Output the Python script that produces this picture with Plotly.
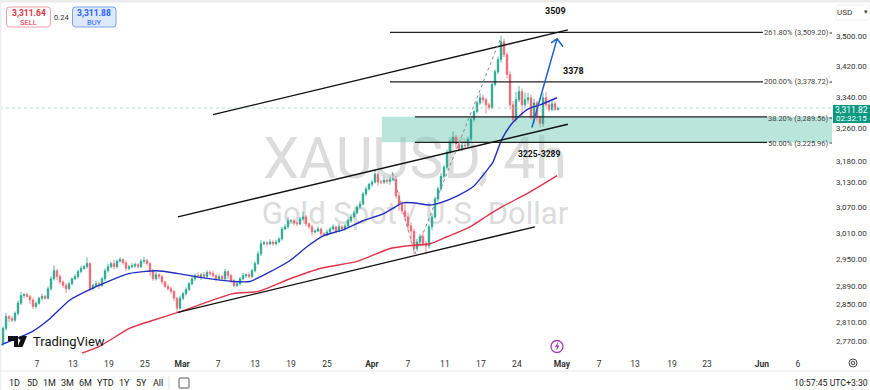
import plotly.graph_objects as go
import math

W, H = 870, 390
L, R, T, B = 0, 38, 6, 33
PW, PH = W - L - R, H - T - B

closes = [
    2766, 2798, 2823, 2819, 2815, 2830, 2852, 2869, 2871, 2867,
    2859, 2845, 2852, 2863, 2867, 2863, 2884, 2906, 2924, 2911,
    2899, 2891, 2884, 2895, 2906, 2911, 2922, 2929, 2933, 2940,
    2884, 2891, 2895, 2891, 2906, 2924, 2933, 2940, 2933, 2945,
    2949, 2942, 2929, 2933, 2935, 2938, 2933, 2945, 2947, 2940,
    2924, 2906, 2915, 2911, 2899, 2889, 2884, 2878, 2863, 2841,
    2863, 2873, 2882, 2895, 2906, 2913, 2911, 2915, 2911, 2920,
    2918, 2913, 2906, 2911, 2906, 2922, 2913, 2902, 2891, 2895,
    2906, 2913, 2915, 2911, 2924, 2940, 2962, 2985, 2987, 2985,
    2989, 2985, 2989, 2996, 3019, 3024, 3038, 3038, 3033, 3031,
    3042, 3047, 3031, 3024, 3012, 3014, 3019, 3008, 3005, 3012,
    3019, 3024, 3014, 3024, 3019, 3026, 3038, 3047, 3056, 3070,
    3077, 3101, 3113, 3124, 3129, 3148, 3129, 3129, 3134, 3131,
    3136, 3136, 3096, 3077, 3061, 3047, 3026, 3014, 2974, 2989,
    3001, 2985, 2980, 3024, 3047, 3089, 3113, 3143, 3165, 3202,
    3227, 3239, 3222, 3209, 3219, 3217, 3234, 3283, 3303, 3325,
    3338, 3333, 3320, 3313, 3372, 3405, 3437, 3484, 3450, 3398,
    3320, 3283, 3333, 3354, 3320, 3333, 3338, 3288, 3325, 3288,
    3273, 3338, 3320, 3308, 3323, 3308, 3312,
]
wick_up = [
    6, 4, 8, 3, 5, 4, 6, 8, 3, 4,
    3, 5, 4, 3, 6, 4, 5, 6, 12, 4,
    5, 3, 6, 4, 3, 5, 4, 6, 4, 14,
    3, 5, 6, 3, 4, 5, 6, 4, 8, 4,
    6, 3, 5, 4, 6, 4, 3, 5, 8, 4,
    3, 4, 6, 3, 4, 3, 5, 4, 3, 2,
    6, 4, 5, 4, 6, 5, 8, 4, 6, 5,
    4, 6, 3, 5, 4, 6, 3, 4, 3, 5,
    4, 6, 3, 5, 4, 5, 6, 8, 5, 4,
    6, 4, 5, 4, 5, 6, 8, 4, 5, 4,
    5, 12, 4, 3, 5, 4, 6, 3, 4, 5,
    4, 6, 3, 8, 4, 5, 4, 6, 5, 4,
    8, 5, 6, 4, 5, 12, 5, 6, 8, 5,
    6, 14, 8, 10, 6, 18, 10, 8, 6, 8,
    6, 12, 6, 5, 8, 6, 5, 8, 5, 6,
    6, 14, 6, 4, 8, 10, 6, 5, 4, 6,
    12, 8, 5, 6, 5, 6, 8, 16, 8, 6,
    8, 10, 20, 14, 8, 18, 12, 8, 10, 6,
    5, 12, 16, 8, 10, 5, 3,
]
wick_dn = [
    4, 6, 5, 8, 4, 3, 5, 4, 6, 3,
    8, 6, 4, 3, 5, 4, 3, 5, 4, 8,
    5, 6, 10, 3, 4, 3, 5, 4, 3, 4,
    6, 4, 3, 8, 3, 5, 4, 3, 6, 4,
    3, 5, 6, 4, 3, 5, 4, 3, 5, 4,
    12, 5, 4, 6, 5, 3, 4, 5, 6, 8,
    3, 5, 4, 3, 4, 5, 3, 8, 4, 3,
    5, 4, 6, 3, 5, 3, 8, 6, 4, 3,
    4, 3, 5, 4, 3, 4, 3, 5, 4, 6,
    3, 5, 4, 3, 4, 3, 5, 4, 6, 5,
    3, 4, 6, 5, 8, 4, 3, 6, 4, 3,
    5, 4, 6, 3, 5, 4, 3, 5, 4, 3,
    4, 3, 5, 4, 6, 3, 8, 5, 4, 6,
    8, 5, 6, 16, 8, 10, 12, 26, 12, 6,
    8, 6, 20, 6, 8, 5, 6, 4, 5, 6,
    4, 6, 12, 6, 5, 8, 4, 5, 6, 4,
    5, 8, 22, 6, 4, 5, 6, 8, 6, 10,
    12, 8, 6, 6, 30, 8, 10, 6, 14, 8,
    10, 8, 6, 5, 4, 3, 2,
]

bar_px = 3.0  # one stored candle slot on the time scale
tick_pos = [12.3, 24.3, 36.3, 48.3, 60.7, 72.7, 85, 97, 109, 124, 136, 148.3, 160.3, 172.3,
            187.3, 199.7, 211.7, 224, 235.7, 254, 266]
tick_labels = ["7", "13", "19", "25", "<b>Mar</b>", "7", "13", "19", "25", "<b>Apr</b>", "7", "11", "17", "24",
               "<b>May</b>", "7", "13", "19", "23", "<b>Jun</b>", "6"]
price_ticks = [3500, 3420, 3340, 3260, 3180, 3130, 3070, 3010, 2950, 2890, 2850, 2810, 2770]

ma_fast_pos = [0, 11, 16.7, 23.3, 29.3, 36.7, 43.3, 52.3, 59, 66.7, 77.7, 83.3, 89, 96.7, 102.3, 107.7, 114.3,
               121, 127.7, 134.3, 137.7, 143.3, 146.7, 152.3, 157.7, 163.3, 164.3, 167.3, 171, 175.7, 180, 185.7]
ma_fast = [2762, 2792, 2819, 2859, 2880, 2902, 2918, 2924, 2918, 2909, 2900, 2900, 2918, 2947, 2978, 3003, 3017,
           3038, 3054, 3080, 3080, 3075, 3080, 3096, 3118, 3167, 3177, 3234, 3276, 3308, 3320, 3338]
ma_slow_pos = [27.3, 33.3, 43.3, 50, 59.3, 77.7, 86, 96.7, 106.7, 119, 130, 135.7, 143.3, 149, 156.7, 162.3, 166.7, 176.7, 185.7]
ma_slow = [2745, 2760, 2798, 2813, 2832, 2873, 2878, 2906, 2929, 2945, 2974, 2980, 2985, 3001, 3024, 3049, 3068, 3106, 3145]

upper_pos, upper_val = [71, 189.3], [3295, 3516]
middle_pos, middle_val = [59.3, 189.3], [3047, 3271]
lower_pos, lower_val = [59.3, 178.3], [2832, 3024]
zig_pos, zig_val = [130.7, 138.3, 167], [3153, 2962, 3496]
arrow_pos, arrow_val = [177.3, 185.7, 183.7, 185.7, 187.7], [3263, 3492, 3481, 3492, 3471]
fib_levels = [3509.20, 3378.72, 3289.56, 3225.96]
fib_start = [130, 130, 138.3, 138.3]
fib_end = [254.3, 254.3, 255.7, 255.7]
fib_text = ["261.80% (3,509.20)", "200.00% (3,378.72)", "38.20% (3,289.56)", "50.00% (3,225.96)"]
last_price = 3311.82


def X(px):
    return (px - L) / PW


def Y(py):
    return 1 - (py - T) / PH


FONT = "Roboto, 'Noto Sans', sans-serif"
x_idx = list(range(len(closes)))
opens = [2762] + closes[:-1]
highs = [max(o, c) + u for o, c, u in zip(opens, closes, wick_up)]
lows = [min(o, c) - d for o, c, d in zip(opens, closes, wick_dn)]

fig = go.Figure()
fig.add_trace(go.Candlestick(
    x=x_idx, open=opens, high=highs, low=lows, close=closes,
    increasing=dict(line=dict(color="#2ba892", width=0.8), fillcolor="#089981"),
    decreasing=dict(line=dict(color="#f0707c", width=0.8), fillcolor="#f23645"),
    whiskerwidth=0, showlegend=False, hoverinfo="skip",
))


def line(xs, ys, color, width, dash="solid", shape="linear"):
    fig.add_trace(go.Scatter(x=xs, y=ys, mode="lines", showlegend=False, hoverinfo="skip",
                             line=dict(color=color, width=width, dash=dash, shape=shape, smoothing=0.6)))


line([0, PW / bar_px], [last_price, last_price], "#9adacd", 0.8, "dot")
line(ma_slow_pos, ma_slow, "#e2324a", 1.4, shape="spline")
line(ma_fast_pos, ma_fast, "#1f2fc0", 1.4, shape="spline")
for a, b, v in zip(fib_start, fib_end, fib_levels):
    line([a, b], [v, v], "#222222", 1.3)
line(upper_pos, upper_val, "#111111", 1.3)
line(middle_pos, middle_val, "#111111", 1.5)
line(lower_pos, lower_val, "#111111", 1.3)
line(zig_pos, zig_val, "#8a8a8a", 1, "dot")
line(arrow_pos, arrow_val, "#1c5fd0", 1.5)

shapes = [
    # watermark
    dict(type="rect", xref="paper", yref="paper", x0=X(240), x1=X(590), y0=Y(182), y1=Y(127), layer="below",
         line=dict(width=0), fillcolor="rgba(0,0,0,0)",
         label=dict(text="XAUUSD, 4h", font=dict(size=57, color="#dcdcdc", family=FONT),
                    textposition="middle center")),
    dict(type="rect", xref="paper", yref="paper", x0=X(240), x1=X(590), y0=Y(230), y1=Y(193), layer="below",
         line=dict(width=0), fillcolor="rgba(0,0,0,0)",
         label=dict(text="Gold Spot / U.S. Dollar", font=dict(size=31, color="#dcdcdc", family=FONT),
                    textposition="middle center")),
    # demand zone
    dict(type="rect", xref="x", yref="y", x0=127.3, x1=PW / bar_px, y0=3225.96, y1=3289.56,
         layer="below", line=dict(width=0), fillcolor="rgba(120,205,185,0.52)"),
    # frame strips
    dict(type="rect", xref="paper", yref="paper", x0=X(0), x1=X(870), y0=Y(0), y1=Y(2.5), line=dict(width=0), fillcolor="#ececec"),
    dict(type="rect", xref="paper", yref="paper", x0=X(0), x1=X(1.5), y0=Y(0), y1=Y(390), line=dict(width=0), fillcolor="#efefef"),
    dict(type="line", xref="paper", yref="paper", x0=X(0), x1=X(870), y0=Y(371), y1=Y(371), line=dict(width=1, color="#e6e8ee")),
    dict(type="line", xref="paper", yref="paper", x0=X(169), x1=X(169), y0=Y(376), y1=Y(389), line=dict(width=1, color="#e0e3eb")),
]


def rrect(x0, y0, x1, y1, r, fill, border, width=1):
    p = (f"M {X(x0+r)} {Y(y0)} L {X(x1-r)} {Y(y0)} Q {X(x1)} {Y(y0)} {X(x1)} {Y(y0+r)} "
         f"L {X(x1)} {Y(y1-r)} Q {X(x1)} {Y(y1)} {X(x1-r)} {Y(y1)} L {X(x0+r)} {Y(y1)} "
         f"Q {X(x0)} {Y(y1)} {X(x0)} {Y(y1-r)} L {X(x0)} {Y(y0+r)} Q {X(x0)} {Y(y0)} {X(x0+r)} {Y(y0)} Z")
    shapes.append(dict(type="path", xref="paper", yref="paper", path=p, fillcolor=fill,
                       line=dict(color=border, width=width)))


def poly(pts, fill):
    p = "M " + " L ".join(f"{X(a)} {Y(b)}" for a, b in pts) + " Z"
    shapes.append(dict(type="path", xref="paper", yref="paper", path=p, fillcolor=fill, line=dict(width=0)))


def circ(cx, cy, r, border, fill="rgba(0,0,0,0)", width=1):
    shapes.append(dict(type="circle", xref="paper", yref="paper", x0=X(cx-r), x1=X(cx+r), y0=Y(cy-r), y1=Y(cy+r),
                       fillcolor=fill, line=dict(color=border, width=width)))


rrect(6.5, 7, 50.5, 27, 3, "#ffffff", "#f0a0a8")
rrect(72.5, 7, 116, 27, 3, "#dce9fb", "#7aa6ee")
rrect(836, 5, 870, 20, 2, "#ffffff", "#f0f0f0")
shapes.append(dict(type="rect", xref="paper", yref="paper", x0=X(833), x1=X(870), y0=Y(105), y1=Y(123),
                   fillcolor="#089981", line=dict(width=0)))
for py in (33, 82, 118, 143):
    shapes.append(dict(type="line", xref="paper", yref="paper", x0=X(829.5), x1=X(832), y0=Y(py), y1=Y(py),
                       line=dict(color="#333333", width=1)))
# TradingView logo
poly([(8, 336), (18, 336), (18, 347), (14, 347), (14, 341), (8, 341)], "#111111")
circ(20.5, 338, 1.8, "#111111", "#111111", 0)
poly([(22, 336), (27, 336), (22.5, 347), (17.5, 347)], "#111111")
# event and settings icons
circ(557, 346.5, 6, "#9c3fb8", width=1.3)
poly([(558, 342), (555, 347), (557, 347), (556, 351), (559.5, 345.5), (557.5, 345.5)], "#9c3fb8")
circ(853, 363, 4, "#444444")
circ(853, 363, 1.8, "#444444")
# calendar icon
rrect(179, 378, 189, 388, 1, "rgba(0,0,0,0)", "#444444", 0.9)

anns = []


def txt(px, py, s, size=8.5, color="#333333", anchor="center"):
    anns.append(dict(xref="paper", yref="paper", x=X(px), y=Y(py), text=s, showarrow=False, xanchor=anchor,
                     yanchor="middle", font=dict(size=size, color=color, family=FONT), align="center",
                     borderpad=0, bgcolor="rgba(0,0,0,0)"))


txt(555, 11, "<b>3509</b>", 9, "#111111")
txt(573, 71, "<b>3378</b>", 9, "#111111")
txt(539, 154, "<b>3225-3289</b>", 8.5, "#111111")
for s, py, px in zip(fib_text, (33, 82, 118, 143), (796.5, 796.5, 798.5, 798.5)):
    txt(px, py, s, 7.5, "#444444")
txt(28.5, 13, "<b>3,311.64</b>", 8.5, "#e03040")
txt(28.5, 22, "SELL", 7.5, "#e03040")
txt(61, 17.5, "0.24", 7.5, "#333333")
txt(94, 13, "<b>3,311.88</b>", 8.5, "#2962ff")
txt(94, 22, "BUY", 7.5, "#2962ff")
txt(844, 12, "USD", 8, "#333333")
txt(866, 12, "▾", 7, "#444444")
txt(851.5, 109.5, "3,311.82", 8.5, "#ffffff")
txt(851.5, 118.5, "02:32:15", 8, "#ffffff")
for px, s in zip((15, 32, 49.5, 67, 85, 105, 124.5, 141, 158),
                 ("1D", "5D", "1M", "3M", "6M", "YTD", "1Y", "5Y", "All")):
    txt(px, 383, s, 9, "#222222")
txt(831, 383, "10:57:45 UTC+3:30", 8.7, "#222222")
txt(32, 341.5, "TradingView", 13, "#111111", "left")

fig.update_layout(
    width=W, height=H, margin=dict(l=L, r=R, t=T, b=B), paper_bgcolor="#ffffff", plot_bgcolor="#ffffff",
    showlegend=False, hovermode=False, shapes=shapes, annotations=anns,
    xaxis=dict(range=[0, PW / bar_px], tickmode="array", tickvals=tick_pos, ticktext=tick_labels,
               showgrid=False, zeroline=False, showline=False, ticks="", rangeslider=dict(visible=False),
               tickfont=dict(size=8.5, color="#333333", family=FONT), automargin=False),
    yaxis=dict(type="log", side="right", range=[math.log10(2737), math.log10(3581)], tickmode="array",
               tickvals=price_ticks, ticktext=[f"{v:,.2f}" for v in price_ticks],
               showgrid=False, zeroline=False, showline=False, ticks="", ticklabelstandoff=3,
               tickfont=dict(size=8, color="#333333", family=FONT), automargin=False),
)

fig.write_html("out.html", config=dict(displayModeBar=False),
               post_script="document.body.style.margin='0';document.body.style.background='#fff';")
